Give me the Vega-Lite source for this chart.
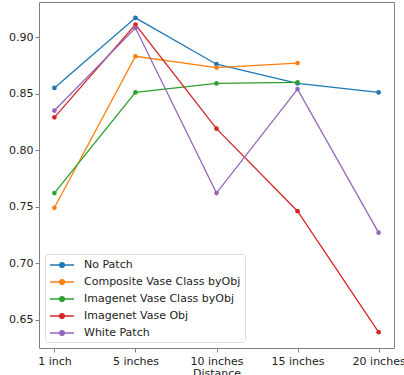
{
  "$schema": "https://vega.github.io/schema/vega-lite/v6.json",
  "width": 355,
  "height": 346,
  "autosize": "none",
  "padding": {"left": 39, "top": 2, "right": 10, "bottom": 27},
  "background": "white",
  "config": {
    "font": "DejaVu Sans",
    "view": {"stroke": "#808080", "strokeWidth": 1}
  },
  "data": {
    "values": [
      {"series": "No Patch", "dist": "1 inch", "v": 0.855},
      {"series": "No Patch", "dist": "5 inches", "v": 0.917},
      {"series": "No Patch", "dist": "10 inches", "v": 0.876},
      {"series": "No Patch", "dist": "15 inches", "v": 0.859},
      {"series": "No Patch", "dist": "20 inches", "v": 0.851},
      {"series": "Composite Vase Class byObj", "dist": "1 inch", "v": 0.749},
      {"series": "Composite Vase Class byObj", "dist": "5 inches", "v": 0.883},
      {"series": "Composite Vase Class byObj", "dist": "10 inches", "v": 0.873},
      {"series": "Composite Vase Class byObj", "dist": "15 inches", "v": 0.877},
      {"series": "Imagenet Vase Class byObj", "dist": "1 inch", "v": 0.762},
      {"series": "Imagenet Vase Class byObj", "dist": "5 inches", "v": 0.851},
      {"series": "Imagenet Vase Class byObj", "dist": "10 inches", "v": 0.859},
      {"series": "Imagenet Vase Class byObj", "dist": "15 inches", "v": 0.86},
      {"series": "Imagenet Vase Obj", "dist": "1 inch", "v": 0.829},
      {"series": "Imagenet Vase Obj", "dist": "5 inches", "v": 0.911},
      {"series": "Imagenet Vase Obj", "dist": "10 inches", "v": 0.819},
      {"series": "Imagenet Vase Obj", "dist": "15 inches", "v": 0.746},
      {"series": "Imagenet Vase Obj", "dist": "20 inches", "v": 0.639},
      {"series": "White Patch", "dist": "1 inch", "v": 0.835},
      {"series": "White Patch", "dist": "5 inches", "v": 0.908},
      {"series": "White Patch", "dist": "10 inches", "v": 0.762},
      {"series": "White Patch", "dist": "15 inches", "v": 0.854},
      {"series": "White Patch", "dist": "20 inches", "v": 0.727}
    ]
  },
  "mark": {"type": "line", "strokeWidth": 1.3, "point": {"filled": true, "size": 22, "opacity": 1}},
  "encoding": {
    "x": {
      "field": "dist", "type": "ordinal",
      "sort": ["1 inch", "5 inches", "10 inches", "15 inches", "20 inches"],
      "scale": {"type": "point", "padding": 0.19},
      "title": "Distance",
      "axis": {"labelAngle": 0, "labelFontSize": 11, "titleFontSize": 11, "titleFontWeight": "normal", "titlePadding": 1, "labelPadding": 3, "tickSize": 4, "domain": false, "tickColor": "#808080", "labelColor": "#222", "titleColor": "#222"}
    },
    "y": {
      "field": "v", "type": "quantitative",
      "scale": {"domain": [0.625, 0.931], "nice": false, "zero": false},
      "title": null,
      "axis": {"values": [0.65, 0.7, 0.75, 0.8, 0.85, 0.9], "format": ".2f", "grid": false, "labelFontSize": 11, "labelPadding": 2, "tickSize": 4, "domain": false, "tickColor": "#808080", "labelColor": "#222"}
    },
    "color": {
      "field": "series", "type": "nominal",
      "sort": ["No Patch", "Composite Vase Class byObj", "Imagenet Vase Class byObj", "Imagenet Vase Obj", "White Patch"],
      "scale": {"domain": ["No Patch", "Composite Vase Class byObj", "Imagenet Vase Class byObj", "Imagenet Vase Obj", "White Patch"], "range": ["#1f77b4", "#ff7f0e", "#2ca02c", "#d62728", "#9467bd"]},
      "legend": {
        "title": null,
        "orient": "none",
        "legendX": 6,
        "legendY": 252,
        "fillColor": "rgba(255,255,255,0.8)",
        "strokeColor": "#dddddd",
        "cornerRadius": 3,
        "padding": 4,
        "symbolOffset": 6,
        "symbolType": "M-2,0L2,0M-0.4,0A0.4,0.4,0,1,1,0.4,0A0.4,0.4,0,1,1,-0.4,0Z",
        "symbolSize": 144,
        "symbolStrokeWidth": 1.3,
        "labelOffset": 15,
        "labelFontSize": 11,
        "labelColor": "#222",
        "rowPadding": 5,
        "labelLimit": 300,
        "encode": {"symbols": {"update": {"fill": {"scale": "color", "field": "value"}, "fillOpacity": {"value": 1}}}}
      }
    }
  }
}
